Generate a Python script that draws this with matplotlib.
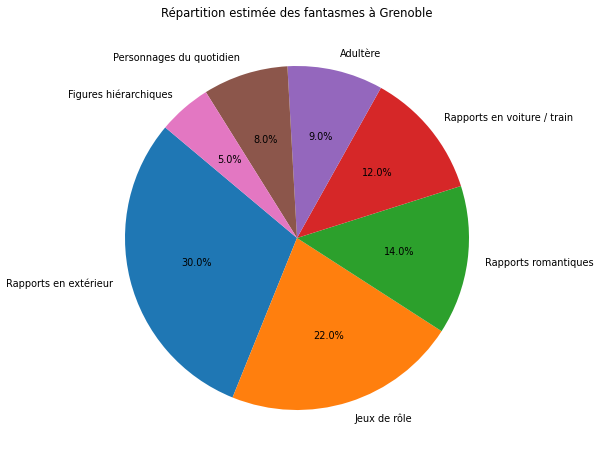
import matplotlib
matplotlib.use("Agg")
import matplotlib.pyplot as plt

labels = ["Rapports en extérieur", "Jeux de rôle", "Rapports romantiques",
          "Rapports en voiture / train", "Adultère", "Personnages du quotidien",
          "Figures hiérarchiques"]
values = [30, 22, 14, 12, 9, 8, 5]

fig = plt.figure(figsize=(6, 4.61), dpi=100)
ax = fig.add_axes([82/600, 8/461, 430/600, 430/461])
ax.pie(values, labels=labels, autopct='%1.1f%%', startangle=140,
       textprops={'fontsize': 7})
ax.set_title("Répartition estimée des fantasmes à Grenoble", fontsize=8.4, pad=4.2)
fig.savefig("out.png", dpi=100)
